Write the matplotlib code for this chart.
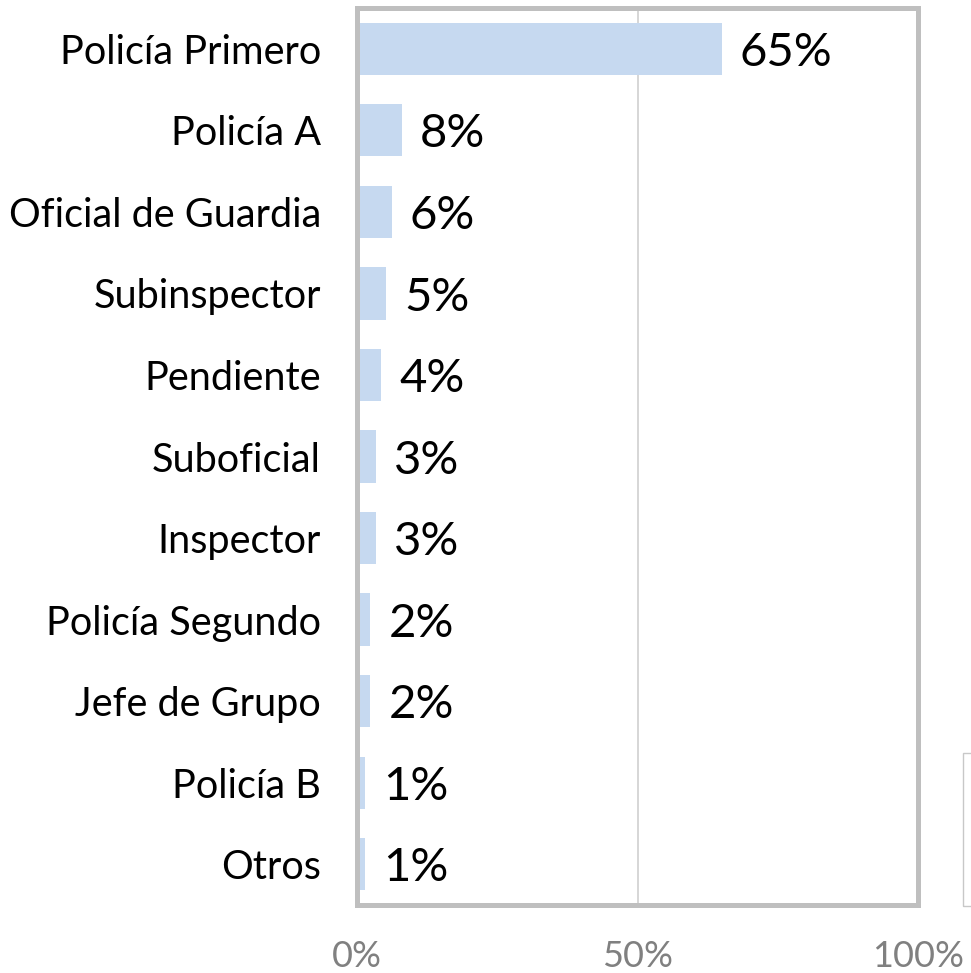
import matplotlib
matplotlib.use("Agg")
import matplotlib.pyplot as plt
from matplotlib.patches import Rectangle

categories = ["Policía Primero", "Policía A", "Oficial de Guardia", "Subinspector",
              "Pendiente", "Suboficial", "Inspector", "Policía Segundo",
              "Jefe de Grupo", "Policía B", "Otros"]
values = [65.0, 8.0, 6.2, 5.2, 4.3, 3.4, 3.4, 2.4, 2.4, 1.4, 1.4]
xticks = [0, 50, 100]
xtick_labels = ["0%", "50%", "100%"]

plt.rcParams['font.family'] = ['Lato', 'DejaVu Sans']

W, H = 971, 973
fig = plt.figure(figsize=(W / 100, H / 100), dpi=100)
ax = fig.add_axes([357 / W, 1 - 905 / H, (918 - 357) / W, (905 - 8) / H])

ypos = list(range(len(categories)))
ax.barh(ypos, values, height=0.64, color="#c6d9f0", zorder=2)
ax.set_ylim(len(categories) - 0.5, -0.5)
ax.set_xlim(0, 100)

ax.set_yticks(ypos)
ax.set_yticklabels(categories, fontsize=28.5, color="black")
ax.tick_params(axis="y", length=0, pad=26)

ax.set_xticks(xticks)
ax.set_xticklabels(xtick_labels, fontsize=26, color="#808080")
ax.tick_params(axis="x", length=0, pad=25)

ax.grid(axis="x", color="#d0d0d0", linewidth=1.2, zorder=0)
ax.set_axisbelow(True)
for s in ax.spines.values():
    s.set_color("#bfbfbf")
    s.set_linewidth(3.6)

for y, v in zip(ypos, values):
    ax.annotate(f"{round(v)}%", xy=(v, y), xytext=(13, -3), textcoords="offset points",
                ha="left", va="center", fontsize=34, color="black")

# partially visible box at the right edge
fig.patches.append(Rectangle((963 / W, 1 - 906 / H), 20 / W, (906 - 753) / H,
                             transform=fig.transFigure, fill=False,
                             edgecolor="#c8c8c8", linewidth=1.0))

fig.savefig("out.png", dpi=100, facecolor="white")
